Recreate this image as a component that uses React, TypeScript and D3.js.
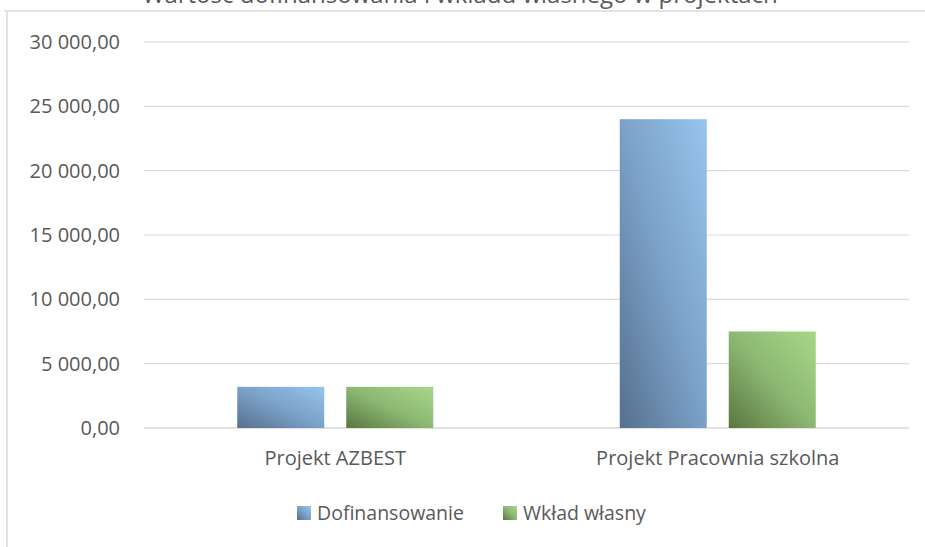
import React from "react";
import * as d3 from "d3";

const categories = ["Projekt AZBEST", "Projekt Pracownia szkolna"];
const seriesNames = ["Dofinansowanie", "Wkład własny"];
const dofinansowanie = [3200, 24000];
const wkladWlasny = [3200, 7500];
const yTicks = [0, 5000, 10000, 15000, 20000, 25000, 30000];
const title = "Wartość dofinansowania i wkładu własnego w projektach";

const W = 925;
const H = 547;
const FONT = "'Open Sans', 'Noto Sans', sans-serif";

const fmt = (v: number) => {
  const s = v.toFixed(2).replace(".", ",");
  const [intPart, dec] = s.split(",");
  const withSpaces = intPart.replace(/\B(?=(\d{3})+(?!\d))/g, " ");
  return `${withSpaces},${dec}`;
};

export default function App() {
  const plotLeft = 144;
  const plotRight = 909;
  const y = d3.scaleLinear().domain([0, 30000]).range([428, 42]);
  const x0 = d3.scaleBand<string>().domain(categories).range([plotLeft, plotRight]);
  const barW = 87;
  const gap = 22;
  const x1 = d3
    .scaleOrdinal<string, number>()
    .domain(seriesNames)
    .range([-(barW + gap / 2), gap / 2]);

  const data = [dofinansowanie, wkladWlasny];
  const fills = ["url(#gBlue)", "url(#gGreen)"];

  return (
    <svg
      width={W}
      height={H}
      style={{ position: "fixed", left: 0, top: 0, background: "#fff", display: "block" }}
    >
      <defs>
        <linearGradient id="gBlue" x1="0" y1="1" x2="1" y2="0">
          <stop offset="0" stopColor="#56708d" />
          <stop offset="0.5" stopColor="#7ba1c8" />
          <stop offset="1" stopColor="#97c4ed" />
        </linearGradient>
        <linearGradient id="gGreen" x1="0" y1="1" x2="1" y2="0">
          <stop offset="0" stopColor="#5a763f" />
          <stop offset="0.5" stopColor="#8cb873" />
          <stop offset="1" stopColor="#a8d788" />
        </linearGradient>
      </defs>
      <text
        x={460}
        y={2.5}
        textAnchor="middle"
        fontFamily={FONT}
        fontSize={24}
        fill="#595959"
      >
        {title}
      </text>
      <line x1={4} x2={W} y1={11} y2={11} stroke="#d9d9d9" strokeWidth={1.5} />
      <line x1={7} x2={7} y1={11} y2={H} stroke="#d9d9d9" strokeWidth={1.5} />
      {yTicks.map((t) => (
        <g key={t}>
          <line
            x1={plotLeft}
            x2={plotRight}
            y1={y(t)}
            y2={y(t)}
            stroke="#d9d9d9"
            strokeWidth={t === 0 ? 1.5 : 1.2}
          />
          <text
            x={120}
            y={y(t)}
            dy="0.35em"
            textAnchor="end"
            fontFamily={FONT}
            fontSize={20}
            fill="#595959"
          >
            {fmt(t)}
          </text>
        </g>
      ))}
      {categories.map((c, ci) => {
        const cx = (x0(c) as number) + x0.bandwidth() / 2;
        return (
          <g key={c}>
            {seriesNames.map((s, si) => (
              <rect
                key={s}
                x={cx + (x1(s) as number)}
                y={y(data[si][ci])}
                width={barW}
                height={y(0) - y(data[si][ci])}
                fill={fills[si]}
              />
            ))}
            <text
              x={cx}
              y={465}
              textAnchor="middle"
              fontFamily={FONT}
              fontSize={20}
              fill="#595959"
            >
              {c}
            </text>
          </g>
        );
      })}
      <g>
        <rect x={297} y={506} width={14} height={14} fill="url(#gBlue)" />
        <text x={317} y={520} fontFamily={FONT} fontSize={19.5} fill="#595959">
          {seriesNames[0]}
        </text>
        <rect x={503} y={506} width={14} height={14} fill="url(#gGreen)" />
        <text x={523} y={520} fontFamily={FONT} fontSize={19.5} fill="#595959">
          {seriesNames[1]}
        </text>
      </g>
    </svg>
  );
}
